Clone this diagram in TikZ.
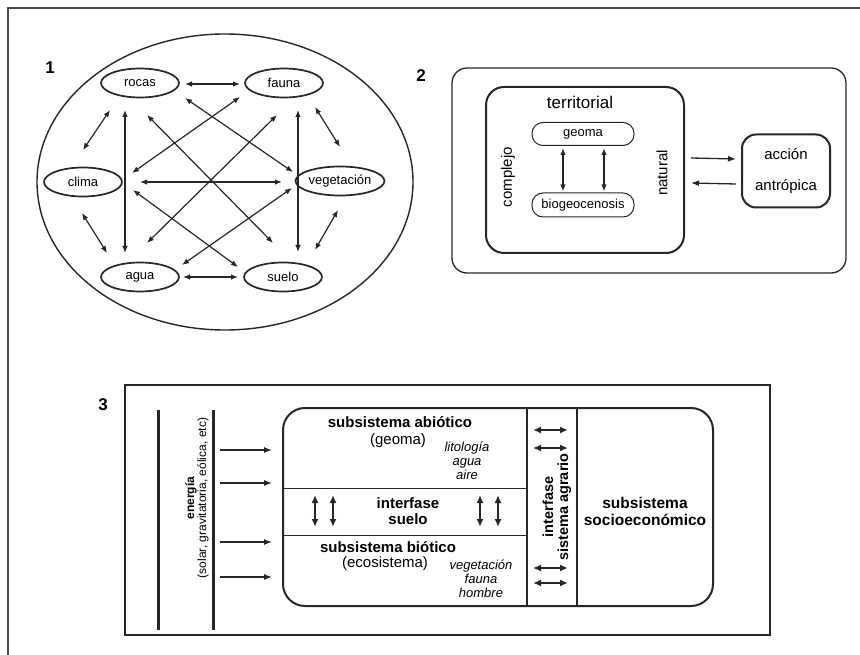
\documentclass[tikz,border=0pt]{standalone}
\usepackage{fontspec}
\setmainfont{Liberation Sans}
\usetikzlibrary{arrows.meta,shapes.geometric}

\tikzset{
    elem/.style={ellipse, draw, line width=1.7pt, minimum width=78pt,
        minimum height=29pt, inner sep=0pt, font=\fontsize{13}{15}\selectfont},
    link/.style={{Latex[length=7pt,width=5.5pt]}-{Latex[length=7pt,width=5.5pt]},
        line width=1.2pt},
    heavylink/.style={{Latex[length=8pt,width=7pt]}-{Latex[length=8pt,width=7pt]},
        line width=1.8pt},
    onearr/.style={-{Latex[length=8pt,width=6pt]}, line width=1.3pt},
    pill/.style={draw, rounded corners=11pt, line width=1pt,
        minimum width=102pt, minimum height=23pt, inner sep=0pt,
        font=\fontsize{13}{15}\selectfont},
    numlabel/.style={font=\bfseries\fontsize{17}{19}\selectfont},
    big/.style={font=\fontsize{15}{17}\selectfont},
    bigbold/.style={font=\bfseries\fontsize{15}{16}\selectfont, align=center},
    small/.style={font=\itshape\fontsize{13}{14}\selectfont, align=center}
}

\begin{document}
\begin{tikzpicture}[x=1pt, y=-1pt, color=black!85, text=black]
        \useasboundingbox (0,0) rectangle (860,655);
        \draw[line width=1.6pt, black!70] (8,655) -- (8,8) -- (860,8);

        \node[numlabel] (num1) at (50,68) {1};
        \draw[line width=1.4pt] (225,182) ellipse [x radius=188pt, y radius=148pt];

        \node[elem] (rocas) at (140,83) {rocas};
        \node[elem] (fauna) at (284,83) {fauna};
        \node[elem] (clima) at (83,182) {clima};
        \node[elem] (vegetacion) at (340,181) {vegetación};
        \node[elem] (agua) at (140,277) {agua};
        \node[elem] (suelo) at (283,277) {suelo};

        \foreach \a/\ax/\ay/\b/\bx/\by in {
            rocas/45/1/fauna/-44/1,
            agua/43/0/suelo/-45/0,
            rocas/-30/27/clima/0/-32,
            clima/-1/31/agua/-33/-24,
            fauna/31/24/vegetacion/0/-34,
            vegetacion/-2/29/suelo/32/-27,
            rocas/-15/27/agua/-15/-24,
            fauna/14/27/suelo/15/-25,
            clima/57/0/vegetacion/-58/1,
            rocas/45/15/vegetacion/-47/-9,
            fauna/-44/14/clima/49/-9,
            rocas/7/32/suelo/-10/-34,
            fauna/-7/32/agua/7/-34,
            clima/50/8/suelo/-45/-10,
            vegetacion/-48/7/agua/42/-12} {
            \draw[link] ([shift={(\ax,\ay)}]\a.center) -- ([shift={(\bx,\by)}]\b.center);
        }

        \node[numlabel] (num2) at (421,76) {2};
        \draw[rounded corners=15pt, line width=1.3pt] (452,68) rectangle (846,273);
        \node[draw, rounded corners=18pt, line width=2pt,
            minimum width=198pt, minimum height=166pt] (terr) at (585,170) {};
        \node[font=\fontsize{17}{19}\selectfont] (terrlabel) at (580,102) {territorial};
        \node[big, rotate=90] (complejo) at (508,177) {complejo};
        \node[big, rotate=90] (natural) at (662,173) {natural};
        \node[pill] (geoma) at (583,134) {geoma};
        \node[pill, minimum height=24pt] (biogeo) at (583,205) {biogeocenosis};
        \foreach \dx in {-20,21} {
            \draw[link, line width=1.5pt] ([shift={(\dx,2)}]geoma.south) -- ([shift={(\dx,-1)}]biogeo.north);
        }
        \node[draw, rounded corners=14pt, line width=2pt, minimum width=88pt,
            minimum height=73pt, align=center,
            font=\fontsize{15}{31}\selectfont] (accion) at (786,171) {acción\\antrópica};
        \draw[onearr] ([shift={(6,-12)}]terr.east) -- ([shift={(-5,-12)}]accion.west);
        \draw[onearr] ([shift={(-5,13)}]accion.west) -- ([shift={(6,13)}]terr.east);

        \node[numlabel] (num3) at (103,405) {3};
        \draw[line width=1.2pt] (125,385) rectangle (770,635);
        \draw[line width=3pt] (158,410) -- (158,630);
        \draw[line width=3pt] (213,410) -- (213,630);
        \coordinate (ebar) at (213,507);
        \node[rotate=90, align=center, font=\fontsize{12}{12}\selectfont] (energia)
            at (197,498) {\textbf{energía}\\(solar, gravitatoria, eólica, etc)};

        \node[draw, rounded corners=22pt, line width=2pt, minimum width=430pt,
            minimum height=198pt] (sysbox) at (498,507) {};
        \foreach \dy in {-57,-24,35,70} {
            \draw[onearr] ([shift={(7,\dy)}]ebar) -- ([shift={(-10,\dy)}]sysbox.west);
        }
        \draw[line width=1pt] (283,488) -- (527,488);
        \draw[line width=1pt] (283,535) -- (527,535);
        \draw[line width=1.3pt] (527,408) -- (527,606);
        \draw[line width=1.3pt] (577,408) -- (577,606);

        \node[bigbold] (abiotico) at (400,422) {subsistema abiótico};
        \node[big] (geomalabel) at (398,441) {(geoma)};
        \node[small] (abiolist) at (467,461) {litología\\agua\\aire};
        \node[bigbold] (intsuelo) at (408,511) {interfase\\suelo};
        \node[bigbold] (biotico) at (388,547) {subsistema biótico};
        \node[big] (ecosis) at (385,564) {(ecosistema)};
        \node[small] (biolist) at (481,579) {vegetación\\fauna\\hombre};

        \coordinate (band) at (405,511);
        \foreach \dx in {-90,-72,75,93} {
            \draw[heavylink] ([shift={(\dx,-16)}]band) -- ([shift={(\dx,16)}]band);
        }

        \coordinate (agr) at (552,507);
        \node[bigbold, rotate=90, font=\bfseries\fontsize{14.5}{15}\selectfont]
            (agrario) at (557,507) {interfase\\sistema agrario};
        \foreach \dy in {-77,-59,61,76} {
            \draw[heavylink] ([shift={(-19,\dy)}]agr) -- ([shift={(16,\dy)}]agr);
        }

        \node[bigbold, font=\bfseries\fontsize{15.5}{17}\selectfont] (socio)
            at (645,511) {subsistema\\socioeconómico};
    \end{tikzpicture}
\end{document}
